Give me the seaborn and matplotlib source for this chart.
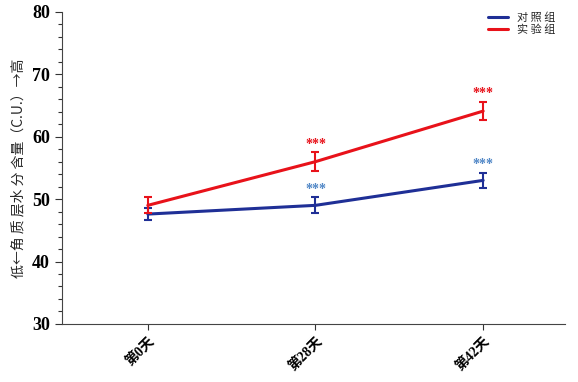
import matplotlib
matplotlib.use("Agg")
import matplotlib.pyplot as plt
import seaborn as sns
import pandas as pd
import numpy as np
from matplotlib.ticker import MultipleLocator
from matplotlib.lines import Line2D

sns.set_style("ticks")
plt.rcParams['font.family'] = ['Liberation Serif', 'Noto Sans CJK SC', 'DejaVu Sans']

categories = ["第0天", "第28天", "第42天"]
groups = ["对照组", "实验组"]
legend_labels = ["对 照 组", "实 验 组"]
control_mean = [47.6, 49.0, 53.0]
control_err = [1.0, 1.3, 1.2]
treat_mean = [49.0, 56.0, 64.1]
treat_err = [1.3, 1.5, 1.5]
sig_labels = ["", "***", "***"]
colors = {"对照组": "#1f2f96", "实验组": "#e8121a"}
star_colors = {"对照组": "#4f86c6", "实验组": "#e8121a"}

rows = []
for i, c in enumerate(categories):
    rows.append({"day": c, "pos": i, "group": "对照组", "value": control_mean[i], "err": control_err[i]})
    rows.append({"day": c, "pos": i, "group": "实验组", "value": treat_mean[i], "err": treat_err[i]})
df = pd.DataFrame(rows)

fig = plt.figure(figsize=(5.78, 3.82), dpi=100)
ax = fig.add_axes([0.107, 0.152, 0.871, 0.817])

sns.lineplot(data=df, x="pos", y="value", hue="group", palette=colors,
             hue_order=groups, linewidth=2.2, ax=ax, legend=False)
for g in groups:
    sub = df[df.group == g]
    ax.errorbar(sub["pos"], sub["value"], yerr=sub["err"], fmt="none",
                ecolor=colors[g], elinewidth=1.5, capsize=3, capthick=1.5, zorder=3)
    for _, r in sub.iterrows():
        lab = sig_labels[int(r["pos"])]
        if lab:
            ax.text(r["pos"], r["value"] + r["err"] + 1.3, lab, ha="center", va="center",
                    color=star_colors[g], fontsize=10, fontweight="bold")

ax.set_ylim(30, 80)
ax.set_xlim(-0.513, 2.49)
ax.yaxis.set_major_locator(MultipleLocator(10))
ax.yaxis.set_minor_locator(MultipleLocator(2))
ax.set_xticks(range(len(categories)))
ax.set_xticklabels(categories, rotation=45, ha="right", rotation_mode="anchor",
                   fontweight="bold", fontsize=10,
                   family=['Liberation Serif', 'Noto Sans CJK SC'])
for t in ax.get_yticklabels():
    t.set_fontweight("bold")
    t.set_fontsize(13)
ax.tick_params(axis="y", which="major", length=5, width=0.8, colors="#333333", labelcolor="black")
ax.tick_params(axis="y", which="minor", length=3, width=0.8, colors="#333333")
ax.tick_params(axis="x", length=4, width=0.8, colors="#333333", labelcolor="black")
ax.set_xlabel("")
ax.set_ylabel("低←角 质 层水 分 含量（C.U.）→高", fontsize=10,
              family=['Noto Sans CJK SC', 'DejaVu Sans'], labelpad=5)
sns.despine(ax=ax)
for s in ["left", "bottom"]:
    ax.spines[s].set_color("#444444")
    ax.spines[s].set_linewidth(0.8)

handles = [Line2D([0], [0], color=colors[g], lw=2.2) for g in groups]
leg = ax.legend(handles, legend_labels, loc="upper right", bbox_to_anchor=(1.0, 1.03),
                frameon=False, handlelength=1.8, handletextpad=0.8,
                labelspacing=0.15, prop={'family': ['Noto Sans CJK SC'], 'size': 8})

fig.savefig("out.png", dpi=100)
